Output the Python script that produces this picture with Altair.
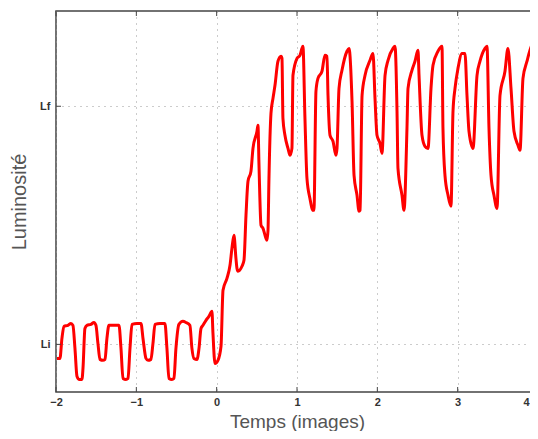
import altair as alt
import pandas as pd

# Time (images) and luminance (Li = 0, Lf = 1)
temps = [-1.988, -1.951, -1.926, -1.901, -1.851, -1.814, -1.789, -1.764, -1.739, -1.714,
         -1.677, -1.664, -1.640, -1.615, -1.565, -1.528, -1.503, -1.478, -1.453, -1.415,
         -1.390, -1.366, -1.341, -1.266, -1.216, -1.191, -1.166, -1.129, -1.104, -1.079,
         -1.054, -0.992, -0.942, -0.917, -0.880, -0.855, -0.818, -0.793, -0.768, -0.706,
         -0.644, -0.619, -0.594, -0.557, -0.532, -0.507, -0.470, -0.420, -0.382, -0.333,
         -0.308, -0.283, -0.245, -0.220, -0.195, -0.170, -0.133, -0.096, -0.071, -0.059,
         -0.046, -0.021, 0.016, 0.054, 0.079, 0.128, 0.166, 0.190, 0.215, 0.240,
         0.253, 0.265, 0.315, 0.340, 0.365, 0.390, 0.427, 0.452, 0.502, 0.514,
         0.527, 0.552, 0.577, 0.614, 0.626, 0.639, 0.651, 0.676, 0.701, 0.726,
         0.763, 0.801, 0.813, 0.825, 0.850, 0.888, 0.913, 0.937, 0.950, 1.000,
         1.037, 1.062, 1.074, 1.099, 1.124, 1.161, 1.199, 1.211, 1.236, 1.261,
         1.311, 1.348, 1.373, 1.386, 1.411, 1.448, 1.485, 1.498, 1.523, 1.560,
         1.622, 1.647, 1.685, 1.710, 1.747, 1.772, 1.785, 1.810, 1.847, 1.909,
         1.946, 1.971, 1.996, 2.033, 2.058, 2.096, 2.133, 2.195, 2.220, 2.245,
         2.257, 2.307, 2.332, 2.369, 2.382, 2.431, 2.469, 2.506, 2.519, 2.556,
         2.593, 2.631, 2.668, 2.693, 2.755, 2.805, 2.817, 2.842, 2.880, 2.917,
         2.942, 2.967, 3.004, 3.054, 3.091, 3.116, 3.141, 3.191, 3.241, 3.278,
         3.340, 3.365, 3.390, 3.415, 3.452, 3.490, 3.527, 3.589, 3.626, 3.664,
         3.701, 3.751, 3.776, 3.813, 3.863, 3.900, 3.950, 3.962, 3.987, 4.000]

luminosite = [-0.059, -0.059, 0.025, 0.076, 0.080, 0.088, 0.080, -0.017, -0.134, -0.147,
              -0.147, -0.101, 0.067, 0.080, 0.084, 0.092, 0.080, 0.004, -0.063, -0.067,
              -0.063, 0.025, 0.080, 0.080, 0.080, -0.017, -0.143, -0.147, -0.143, -0.017,
              0.084, 0.088, 0.088, 0.025, -0.059, -0.067, -0.063, 0.004, 0.084, 0.088,
              0.088, -0.017, -0.143, -0.147, -0.143, -0.017, 0.084, 0.097, 0.092, 0.080,
              -0.017, -0.059, -0.063, -0.017, 0.067, 0.080, 0.101, 0.118, 0.134, 0.139,
              0.046, -0.080, -0.067, -0.008, 0.227, 0.277, 0.332, 0.403, 0.458, 0.361,
              0.319, 0.307, 0.328, 0.353, 0.542, 0.685, 0.727, 0.823, 0.895, 0.920,
              0.752, 0.500, 0.487, 0.445, 0.437, 0.479, 0.697, 0.970, 1.033, 1.088,
              1.189, 1.210, 1.201, 0.949, 0.878, 0.823, 0.794, 0.823, 1.130, 1.201,
              1.214, 1.243, 1.252, 0.949, 0.697, 0.613, 0.563, 0.563, 1.063, 1.117,
              1.147, 1.214, 1.210, 1.046, 0.878, 0.853, 0.794, 0.823, 1.075, 1.151,
              1.231, 1.243, 1.021, 0.710, 0.626, 0.559, 0.563, 1.046, 1.130, 1.193,
              1.222, 1.033, 0.878, 0.844, 0.802, 1.130, 1.193, 1.243, 1.252, 0.979,
              0.739, 0.626, 0.563, 0.907, 1.075, 1.151, 1.189, 1.235, 1.130, 0.878,
              0.832, 0.823, 1.075, 1.172, 1.231, 1.252, 0.907, 0.710, 0.626, 0.580,
              0.979, 1.075, 1.159, 1.222, 1.222, 1.046, 0.895, 0.823, 1.130, 1.189,
              1.243, 1.252, 0.907, 0.710, 0.626, 0.571, 1.046, 1.147, 1.243, 1.075,
              0.895, 0.836, 0.815, 1.117, 1.189, 1.235, 1.273, 1.243, 0.769, 0.685]

x_ticks = [-2, -1, 0, 1, 2, 3, 4]
y_ticks = [0, 1]
y_tick_labels = ["Li", "Lf"]

W, H = 482, 381
FONT = "Liberation Sans"

df = pd.DataFrame({"t": temps, "v": luminosite})
xt = pd.DataFrame({"t": x_ticks})
yt = pd.DataFrame({"v": y_ticks})

label_expr = " : ".join(
    [f"datum.value == {v} ? '{l}'" for v, l in zip(y_ticks[:-1], y_tick_labels[:-1])]
    + [f"'{y_tick_labels[-1]}'"]
)
last_x = x_ticks[-1]

xscale = alt.Scale(domain=[-2, 4], nice=False, zero=False)
yscale = alt.Scale(domain=[-0.2, 1.4], nice=False, zero=False)

xaxis = alt.Axis(values=x_ticks, title="Temps (images)", format="d",
                 labelPadding=4, labelFlush=False, labelOverlap=False,
                 labelAlign=alt.ExprRef(expr=f"datum.value == {last_x} ? 'right' : 'center'"),
                 labelOffset=alt.ExprRef(expr=f"datum.value == {last_x} ? -9 : 0"),
                 titleY=35, titleBaseline="alphabetic", titleFontSize=19)
yaxis = alt.Axis(values=y_ticks, title="Luminosité", labelExpr=label_expr,
                 labelPadding=6, titlePadding=10)

line = alt.Chart(df).mark_line(color="#ff0000", strokeWidth=3, clip=True,
                               interpolate="monotone").encode(
    x=alt.X("t:Q", scale=xscale, axis=xaxis),
    y=alt.Y("v:Q", scale=yscale, axis=yaxis),
)

xt_bot = alt.Chart(xt).mark_rule(color="#444", strokeWidth=1).encode(
    x=alt.X("t:Q", scale=xscale, axis=xaxis), y=alt.value(H), y2=alt.value(H - 5))
xt_top = alt.Chart(xt).mark_rule(color="#444", strokeWidth=1).encode(
    x=alt.X("t:Q", scale=xscale, axis=xaxis), y=alt.value(0), y2=alt.value(5))
yt_left = alt.Chart(yt).mark_rule(color="#444", strokeWidth=1).encode(
    y=alt.Y("v:Q", scale=yscale, axis=yaxis), x=alt.value(0), x2=alt.value(5))

chart = alt.layer(line, xt_bot, xt_top, yt_left).properties(
    width=W, height=H,
    autosize=alt.AutoSizeParams(type="none"),
    padding={"left": 48, "top": 3, "right": -8, "bottom": 39},
).configure_view(
    stroke="#444", strokeWidth=1.5
).configure_axis(
    grid=True, gridColor="#999", gridDash=[1, 5], gridWidth=1,
    domain=False, ticks=False,
    labelFont=FONT, labelFontSize=11, labelFontWeight="bold", labelColor="#333",
    titleFont=FONT, titleFontSize=20, titleFontWeight="normal", titleColor="#555",
)

chart.save("out.html", embed_options={"renderer": "svg", "actions": False})
